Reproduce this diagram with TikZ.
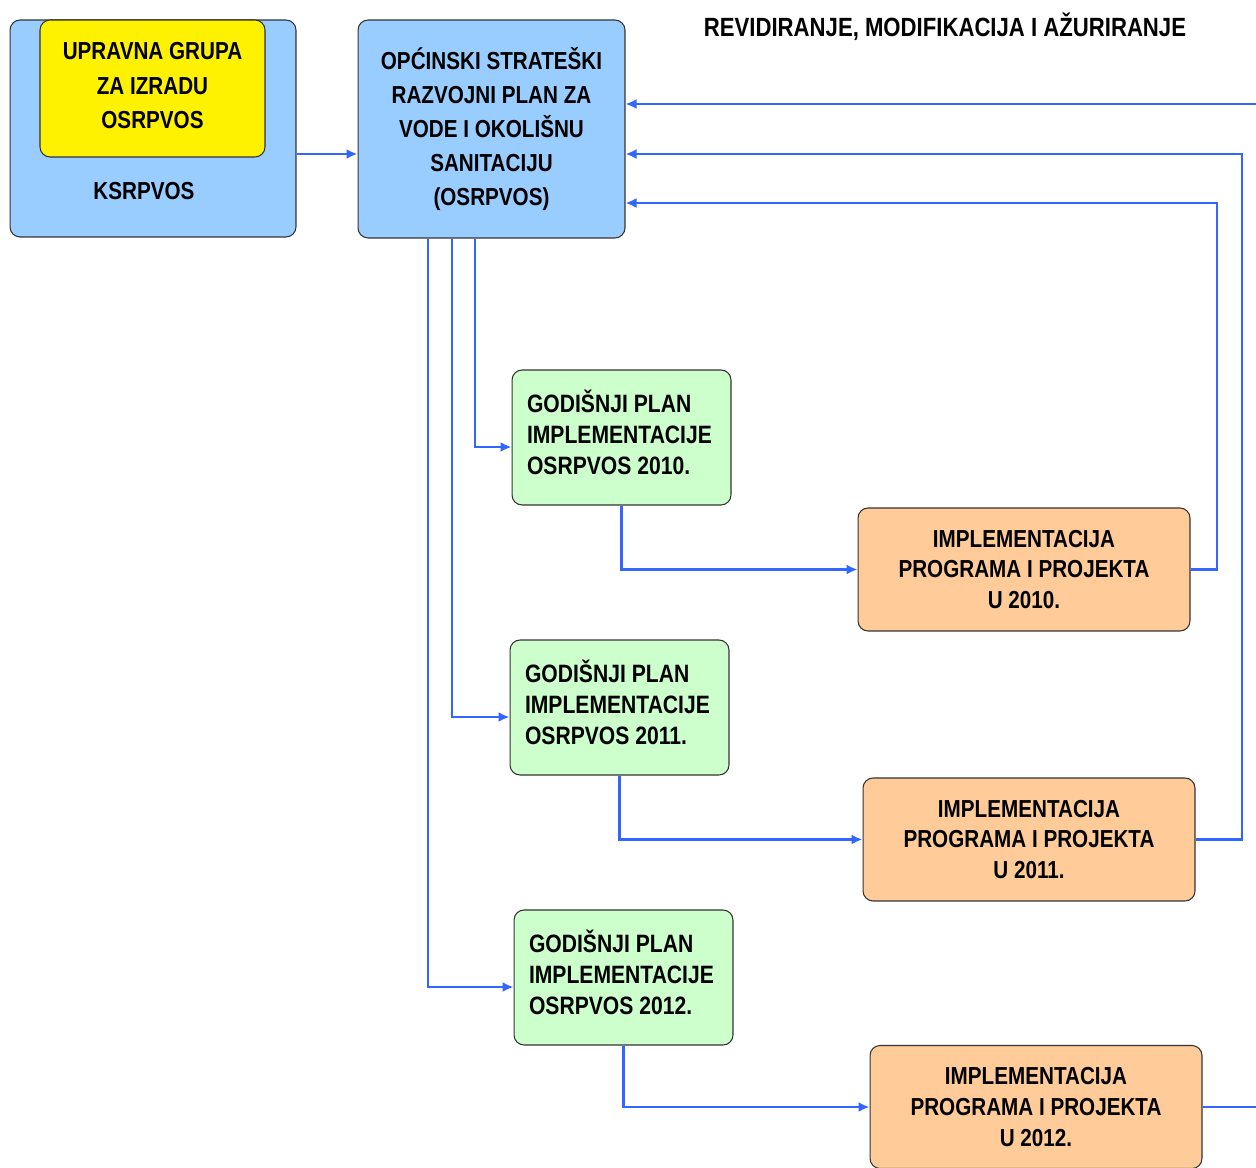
\documentclass[tikz,border=0pt]{standalone}
\usepackage{fontspec}
\setmainfont{Liberation Sans}[FakeStretch=0.84]
\usetikzlibrary{arrows.meta,positioning}

\begin{document}
\begin{tikzpicture}[x=0.02cm, y=-0.02cm,
    box/.style={draw=black!80, line width=0.6pt, rounded corners=0.2cm, font=\bfseries\fontsize{14}{19.4}\selectfont, align=center, inner sep=0pt},
    bluebox/.style={box, fill=blueish},
    yellowbox/.style={box, fill=yellow},
    greenbox/.style={box, fill=greenish, minimum width=4.38cm, minimum height=2.7cm, text width=3.78cm, text depth=1.44cm, align=left, font=\bfseries\fontsize{14.3}{17.6}\selectfont, execute at begin node={\spaceskip=0.24em\relax}},
    orangebox/.style={box, fill=orangeish, minimum width=6.64cm, minimum height=2.46cm, font=\bfseries\fontsize{14}{17.6}\selectfont},
    conn/.style={draw=lineblue, line width=1.3pt, -{Latex[length=2.2mm,width=2mm]}},
    feed/.style={draw=lineblue, line width=1.3pt}]

\definecolor{blueish}{HTML}{99CCFF}
\definecolor{greenish}{HTML}{CCFFCC}
\definecolor{orangeish}{HTML}{FFCC99}
\definecolor{lineblue}{HTML}{3366FF}

\path[use as bounding box, fill=white] (0,0) rectangle (1256,1168);

\node[bluebox, minimum width=5.72cm, minimum height=4.34cm] (ksrpvos) at (153,128.5) {};
\node[yellowbox, minimum width=4.5cm, minimum height=2.74cm, text depth=0.12cm] (upravna) at (152.5,88.5) {UPRAVNA GRUPA\\ZA IZRADU\\OSRPVOS};
\node[font=\bfseries\fontsize{14}{19.4}\selectfont] (ksrpvoslabel) at (144,191) {KSRPVOS};

\node[bluebox, minimum width=5.34cm, minimum height=4.36cm] (main) at (491.5,129) {OPĆINSKI STRATEŠKI\\RAZVOJNI PLAN ZA\\VODE I OKOLIŠNU\\SANITACIJU\\(OSRPVOS)};

\node[font=\bfseries\fontsize{15}{19.4}\selectfont] (title) at (945,27) {REVIDIRANJE, MODIFIKACIJA I AŽURIRANJE};

\draw[conn] ([yshift=-0.51cm]ksrpvos.east) -- ([yshift=-0.51cm]ksrpvos.east -| main.west);

\foreach \yr/\gx/\gy/\ox/\oy/\lx/\fx/\fy in {2010/621.5/437.5/1024/569.5/-0.33/1217/203,
                                             2011/619.5/707.5/1029/839.5/-0.79/1242/154,
                                             2012/623.5/977.5/1036/1107/-1.27/1262/104}
{
    \node[greenbox] (g\yr) at (\gx,\gy) {GODIŠNJI PLAN\\IMPLEMENTACIJE\\OSRPVOS \yr.};
    \node[orangebox] (o\yr) at (\ox,\oy) {IMPLEMENTACIJA\\PROGRAMA I PROJEKTA\\U \yr.};
    \coordinate (f\yr) at (\fx,\fy);

    \draw[conn] ([xshift=\lx cm]main.south) |- ([yshift=-0.19cm]g\yr.west);
    \draw[conn] (g\yr.south) |- (o\yr.west);
    \draw[conn] (o\yr.east) -| (f\yr) -- (main.east |- f\yr);
}

\end{tikzpicture}
\end{document}
